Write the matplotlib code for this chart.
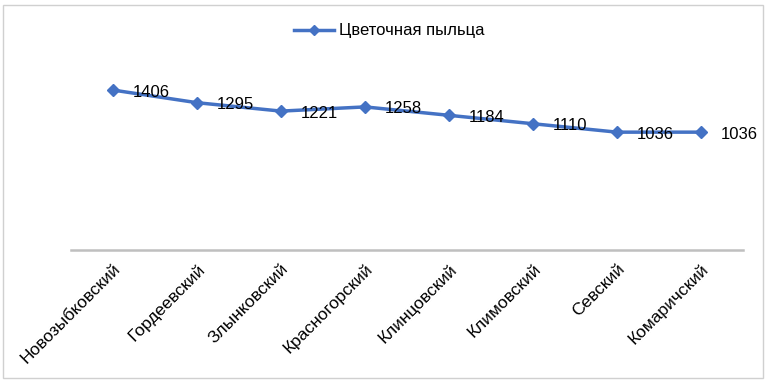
import matplotlib
matplotlib.use("Agg")
import matplotlib.pyplot as plt
from matplotlib.patches import Rectangle
from matplotlib.lines import Line2D

plt.rcParams['font.family'] = ['Liberation Sans', 'DejaVu Sans']

categories = ["Новозыбковский", "Гордеевский", "Злынковский", "Красногорский",
              "Клинцовский", "Климовский", "Севский", "Комаричский"]
values = [1406, 1295, 1221, 1258, 1184, 1110, 1036, 1036]
series_name = "Цветочная пыльца"

W, H = 770, 383
fig = plt.figure(figsize=(W / 100, H / 100), dpi=100)

left, right = 71, 743
bottom_px, top_px = 250, 68
ax = fig.add_axes([left / W, (H - bottom_px) / H, (right - left) / W, (bottom_px - top_px) / H])

color = "#4472C4"
x = list(range(len(categories)))
ax.plot(x, values, color=color, lw=2.5, marker="D", markersize=6,
        markerfacecolor=color, markeredgecolor=color, label=series_name)

for xi, v in zip(x, values):
    ax.annotate(str(v), (xi, v), xytext=(14, -1.5), textcoords="offset points",
                ha="left", va="center", fontsize=12, color="black")

ax.set_xlim(-0.5, len(categories) - 0.5)
ax.set_ylim(0, 1600)
ax.set_yticks([])
ax.set_xticks(x)
ax.set_xticklabels(categories, rotation=45, ha="right", va="top",
                   rotation_mode="anchor", fontsize=12.5)
ax.tick_params(axis="x", length=0, pad=8)
for s in ["top", "right", "left"]:
    ax.spines[s].set_visible(False)
ax.spines["bottom"].set_color("#BFBFBF")
ax.spines["bottom"].set_linewidth(1.8)

handle = Line2D([0], [0], color=color, lw=2.5, marker="D", markersize=5,
                markerfacecolor=color, markeredgecolor=color)
fig.legend([handle], [series_name], loc="center", bbox_to_anchor=(389 / W, 1 - 31 / H),
           frameon=False, fontsize=12, handlelength=2.4, handletextpad=0.3)

fig.patches.append(Rectangle((3 / W, 5 / H), 760 / W, 373 / H, transform=fig.transFigure,
                             fill=False, edgecolor="#D0D0D0", lw=1))

fig.savefig("out.png", dpi=100)
